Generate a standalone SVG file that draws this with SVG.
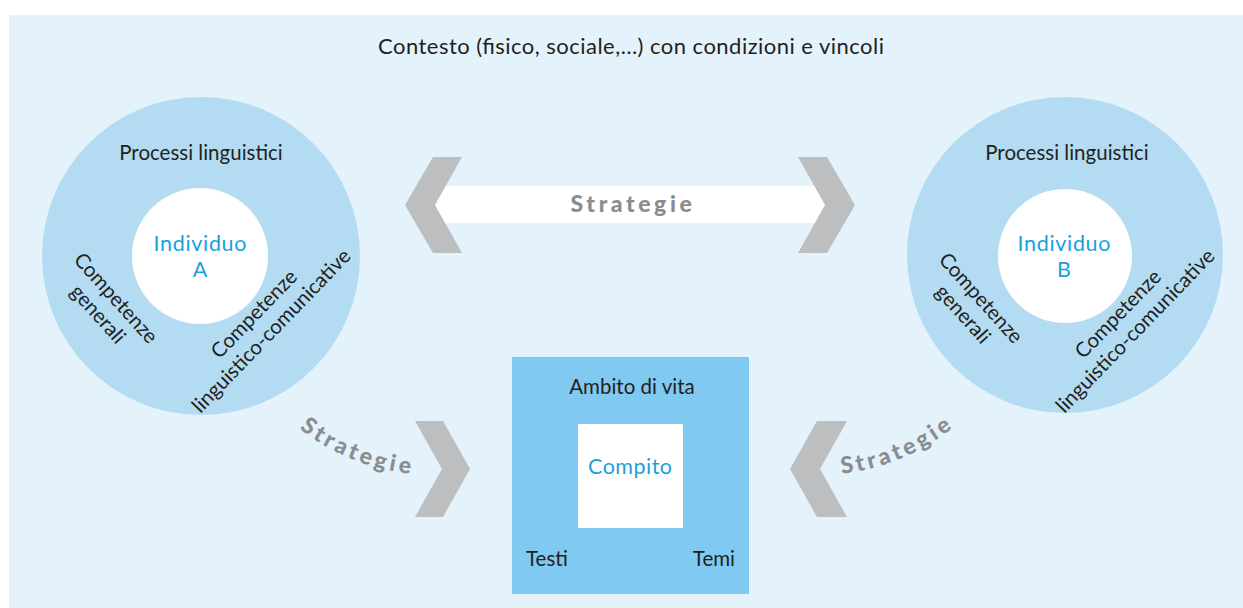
<svg xmlns="http://www.w3.org/2000/svg" width="1243" height="608" viewBox="0 0 1243 608">
<style>
.t{font-family:Lato,"Liberation Sans",sans-serif;font-weight:400;font-size:20.5px;fill:#231f20}
.b{font-family:Lato,"Liberation Sans",sans-serif;font-weight:400;font-size:21.5px;fill:#1a9fdc}
.s{font-family:Lato,"Liberation Sans",sans-serif;font-weight:900;font-size:23px;fill:#8b8c8f;letter-spacing:3.6px}
.chev{fill:#bcbec0}
.outer{fill:#b3dcf3}
.inner{fill:#ffffff}
</style>
<defs>
<path id="arcL" d="M 295,425 A 213 213 0 0 0 414,474"/>
<path id="arcR" d="M 838,474 A 213 213 0 0 0 956,425"/>
</defs>
<rect x="0" y="0" width="1243" height="608" fill="#ffffff"/>
<rect x="9" y="15" width="1234" height="593" fill="#e3f2fb"/>
<text class="t" x="631" y="54" text-anchor="middle" style="font-size:22px" textLength="506">Contesto (fisico, sociale,…) con condizioni e vincoli</text>

<g id="individuoA">
<circle class="outer" cx="201" cy="256" r="159"/>
<circle class="inner" cx="200" cy="256" r="68"/>
<text class="t" x="201" y="160" text-anchor="middle">Processi linguistici</text>
<text class="b" x="200" y="251" text-anchor="middle" textLength="93">Individuo</text>
<text class="b" x="200" y="277" text-anchor="middle">A</text>
<g transform="translate(116,298) rotate(48)">
<text class="t" x="0" y="7" text-anchor="middle">Competenze</text>
<text class="t" x="0" y="31" text-anchor="middle">generali</text>
</g>
<g transform="translate(254,314) rotate(-46)">
<text class="t" x="0" y="7" text-anchor="middle">Competenze</text>
<text class="t" x="0" y="31" text-anchor="middle">linguistico-comunicative</text>
</g>
</g>

<g id="individuoB">
<circle class="outer" cx="1065" cy="255" r="158"/>
<circle class="inner" cx="1065" cy="256" r="67"/>
<text class="t" x="1067" y="160" text-anchor="middle">Processi linguistici</text>
<text class="b" x="1064" y="251" text-anchor="middle" textLength="93">Individuo</text>
<text class="b" x="1064" y="277" text-anchor="middle">B</text>
<g transform="translate(981,298) rotate(48)">
<text class="t" x="0" y="7" text-anchor="middle">Competenze</text>
<text class="t" x="0" y="31" text-anchor="middle">generali</text>
</g>
<g transform="translate(1118,314) rotate(-46)">
<text class="t" x="0" y="7" text-anchor="middle">Competenze</text>
<text class="t" x="0" y="31" text-anchor="middle">linguistico-comunicative</text>
</g>
</g>

<g id="ambito">
<rect x="512" y="357" width="237" height="237" fill="#80c9f0"/>
<rect x="578" y="424" width="105" height="104" fill="#ffffff"/>
<text class="t" x="632" y="394" text-anchor="middle">Ambito di vita</text>
<text class="b" x="630" y="474" text-anchor="middle" textLength="84">Compito</text>
<text class="t" x="526" y="566">Testi</text>
<text class="t" x="735" y="566" text-anchor="end">Temi</text>
</g>

<g id="connectors">
<rect x="430" y="186" width="400" height="37" fill="#ffffff"/>
<polygon class="chev" points="433,157 462,157 435,205 462,253 433,253 405,205"/>
<polygon class="chev" points="798,157 827,157 855,205 827,253 798,253 825,205"/>
<text class="s" x="633" y="212" text-anchor="middle">Strategie</text>
<polygon class="chev" points="415,421 443,421 470,469 443,517 415,517 442,469"/>
<polygon class="chev" points="817,421 847,421 820,469 847,517 817,517 790,469"/>
<text class="s"><textPath href="#arcL" startOffset="52%" text-anchor="middle">Strategie</textPath></text>
<text class="s"><textPath href="#arcR" startOffset="51%" text-anchor="middle">Strategie</textPath></text>
</g>
</svg>
